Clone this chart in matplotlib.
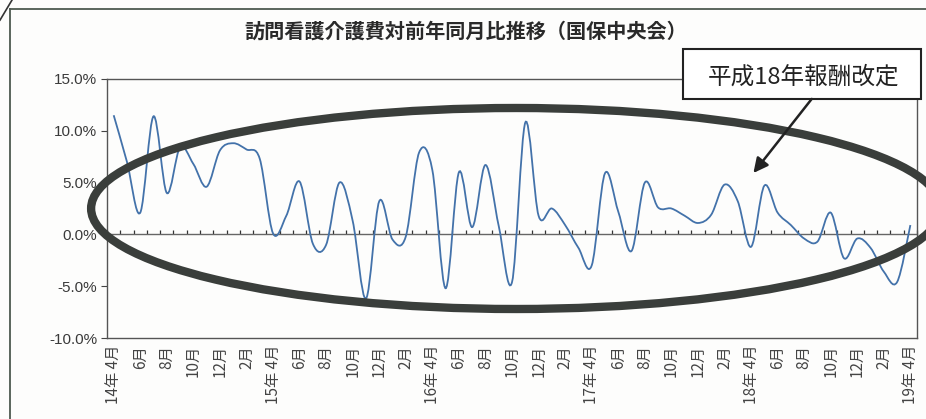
import numpy as np
import matplotlib
matplotlib.use('Agg')
import matplotlib.pyplot as plt
from matplotlib.path import Path
from matplotlib.patches import PathPatch, Ellipse, Rectangle
from matplotlib.lines import Line2D

plt.rcParams['font.family'] = ['Noto Sans CJK JP', 'DejaVu Sans']

# 訪問看護 介護費 対前年同月比（%）、14年4月〜19年4月の月次
months = ['14年 4月', '5月', '6月', '7月', '8月', '9月', '10月', '11月', '12月', '1月', '2月', '3月',
          '15年 4月', '5月', '6月', '7月', '8月', '9月', '10月', '11月', '12月', '1月', '2月', '3月',
          '16年 4月', '5月', '6月', '7月', '8月', '9月', '10月', '11月', '12月', '1月', '2月', '3月',
          '17年 4月', '5月', '6月', '7月', '8月', '9月', '10月', '11月', '12月', '1月', '2月', '3月',
          '18年 4月', '5月', '6月', '7月', '8月', '9月', '10月', '11月', '12月', '1月', '2月', '3月',
          '19年 4月']
yoy = [11.5, 7.0, 2.1, 11.4, 4.0, 8.4, 6.8, 4.6, 8.1, 8.8, 8.2, 7.3,
       0.1, 1.8, 5.1, -0.9, -1.0, 5.0, 1.3, -6.2, 3.2, -0.5, -0.2, 7.9,
       6.2, -5.2, 6.0, 0.7, 6.7, 0.8, -4.6, 10.8, 1.8, 2.5, 0.9, -1.3,
       -3.0, 5.9, 2.2, -1.6, 5.0, 2.6, 2.5, 1.8, 1.1, 1.9, 4.8, 3.2,
       -1.2, 4.7, 2.1, 0.9, -0.4, -0.7, 2.1, -2.3, -0.4, -1.3, -3.6, -4.6, 0.9]
y_ticks = [-10, -5, 0, 5, 10, 15]

title = '訪問看護介護費対前年同月比推移（国保中央会）'
note = '平成18年報酬改定'


def smooth_path(x, y):
    # Excel風のスムージング（3次ベジェ）
    pts = np.column_stack([x, y]).astype(float)
    ext = np.vstack([pts[0], pts, pts[-1]])
    verts = [pts[0]]
    codes = [Path.MOVETO]
    for k in range(len(pts) - 1):
        p0, p1, p2, p3 = ext[k], ext[k + 1], ext[k + 2], ext[k + 3]
        verts += [p1 + (p2 - p0) / 6, p2 - (p3 - p1) / 6, p2]
        codes += [Path.CURVE4] * 3
    return Path(verts, codes)


fig = plt.figure(figsize=(9.26, 4.19), dpi=100)
fig.patch.set_facecolor('#fdfdfc')
ax = fig.add_axes([0.1156, 0.1933, 0.8747, 0.6182])
ax.set_facecolor('#fdfdfc')

x = np.arange(len(yoy))
ax.add_patch(PathPatch(smooth_path(x, yoy), fill=False, edgecolor='#4372aa', lw=1.3, zorder=3))

ax.set_xlim(-0.5, len(yoy) - 0.5)
ax.set_ylim(-10, 15)

# y軸
ax.set_yticks(y_ticks)
ax.set_yticklabels(['%.1f%%' % v for v in y_ticks], family='Liberation Sans', fontsize=11, color='#3a3a3a')
ax.tick_params(axis='y', direction='out', length=4, width=0.8, color='#444444', pad=3)

# x軸ラベル（2か月おき）
ax.set_xticks(x[::2])
ax.set_xticklabels(months[::2], rotation=90, fontsize=11, color='#444444', va='top')
ax.tick_params(axis='x', length=0, pad=5)

for s in ax.spines.values():
    s.set_color('#555555')
    s.set_linewidth(1.0)

# 0%の位置の横軸（目盛は月の境目）
zero_axis = ax.secondary_xaxis(0.4)
zero_axis.set_xticks(np.arange(len(yoy) + 1) - 0.5)
zero_axis.set_xticklabels([])
zero_axis.tick_params(direction='in', length=3, width=0.9, color='#333333')
zero_axis.spines['bottom'].set_color('#666666')
zero_axis.spines['bottom'].set_linewidth(1.0)

# 手書き風の囲み
ax.add_patch(Ellipse((30.3, 2.5), 64.0, 19.4, fill=False, edgecolor='#3a3e3b', lw=6.0,
                     clip_on=False, zorder=5))

# 注記ボックスと矢印
ax.add_patch(Rectangle((0.711, 0.923), 0.294, 0.193, transform=ax.transAxes, facecolor='white',
                       edgecolor='#222222', lw=1.5, clip_on=False, zorder=6))
ax.text(0.860, 1.006, note, transform=ax.transAxes, ha='center', va='center', fontsize=17,
        color='#222222', zorder=7)
ax.annotate('', xy=(0.798, 0.637), xycoords='axes fraction', xytext=(0.870, 0.923),
            textcoords='axes fraction', annotation_clip=False,
            arrowprops=dict(arrowstyle='-|>', mutation_scale=22, lw=1.8, color='#222222',
                            shrinkA=0, shrinkB=0), zorder=6)

fig.text(0.503, 0.926, title, ha='center', va='center', fontsize=14.5, fontweight='bold', color='#2a2a2a')

# 外枠
fig.add_artist(Line2D([0.0113, 0.0113], [-0.1, 0.9797], transform=fig.transFigure, color='#4d5a50', lw=1.3))
fig.add_artist(Line2D([0.0113, 1.1], [0.9797, 0.9797], transform=fig.transFigure, color='#4d5a50', lw=1.3))
fig.add_artist(Line2D([0.0, 0.013], [0.952, 1.0], transform=fig.transFigure, color='#333333', lw=1.2))

fig.savefig('out.png', dpi=100, facecolor=fig.get_facecolor())
